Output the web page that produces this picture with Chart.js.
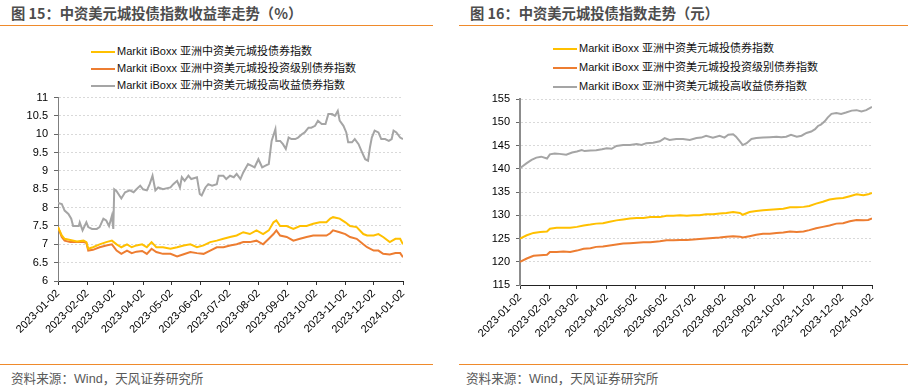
<!DOCTYPE html>
<html>
<head>
<meta charset="utf-8">
<script src="https://cdn.jsdelivr.net/npm/chart.js@4.4.0/dist/chart.umd.min.js"></script>
<style>
  body { margin: 0; width: 913px; height: 392px; background: #fff; position: relative; overflow: hidden;
         font-family: "Liberation Sans", "Noto Sans CJK SC", sans-serif; }
  .title { position: absolute; top: 2px; height: 20px; line-height: 20px; font: bold 14.3px "Noto Sans CJK SC", sans-serif; color: #4d4d4d; white-space: nowrap; }
  .rule { position: absolute; height: 1px; background: #ef8a2b; }
  .legend { position: absolute; font-size: 11px; color: #111; }
  .legend div { white-space: nowrap; }
  .legend span { display: inline-block; width: 24px; height: 2px; vertical-align: middle; margin-right: 2px; }
  .source { position: absolute; top: 371px; line-height: 16px; font-size: 12.6px; color: #595959; white-space: nowrap; }
  canvas { position: absolute; }
</style>
</head>
<body>
<div class="title" style="left:11px">图 15：中资美元城投债指数收益率走势（%）</div>
<div class="rule" style="left:0;top:25px;width:433px"></div>
<div class="legend" id="legendLeft" style="left:91px;top:43px;line-height:17px"></div>
<canvas id="chartLeft" width="430" height="260" style="left:0;top:85px"></canvas>
<div class="rule" style="left:0;top:364px;width:433px"></div>
<div class="source" style="left:11px">资料来源：Wind，天风证券研究所</div>

<div class="title" style="left:470px">图 16：中资美元城投债指数走势（元）</div>
<div class="rule" style="left:459px;top:25px;width:449px"></div>
<div class="legend" id="legendRight" style="left:553px;top:39px;line-height:19px"></div>
<canvas id="chartRight" width="453" height="260" style="left:460px;top:85px"></canvas>
<div class="rule" style="left:459px;top:364px;width:449px"></div>
<div class="source" style="left:466px">资料来源：Wind，天风证券研究所</div>

<script>
// x 轴：自 2023-01-02 起的天数
const monthDays = [0, 31, 59, 90, 120, 151, 181, 212, 243, 273, 304, 334, 365];
const tickLabels = ['2023-01-02', '2023-02-02', '2023-03-02', '2023-04-02', '2023-05-02', '2023-06-02',
  '2023-07-02', '2023-08-02', '2023-09-02', '2023-10-02', '2023-11-02', '2023-12-02', '2024-01-02'];

const seriesNames = [
  'Markit iBoxx 亚洲中资美元城投债券指数',
  'Markit iBoxx 亚洲中资美元城投投资级别债券指数',
  'Markit iBoxx 亚洲中资美元城投高收益债券指数'
];
const seriesColors = ['#FFC000', '#ED7D31', '#A5A5A5'];

// 图15 收益率（%）
const yieldDays = [0, 4, 7, 13, 20, 27, 30, 32, 37, 44, 51, 57, 62, 67, 73, 78, 83, 89, 94, 99,
  104, 111, 119, 126, 133, 140, 147, 154, 161, 168, 175, 182, 189, 196, 203, 210, 217, 223, 228, 231,
  235, 242, 249, 256, 263, 270, 277, 284, 288, 291, 298, 304, 309, 316, 323, 327, 334, 339, 344, 351,
  357, 362, 365];
const yieldAll = [7.47, 7.24, 7.15, 7.12, 7.08, 7.1, 7.06, 6.88, 6.92, 7.0, 7.06, 7.1, 7.0, 6.92, 7.0, 6.92, 6.97, 7.0, 6.92, 7.06,
  6.92, 6.92, 6.88, 6.92, 6.97, 7.0, 6.92, 6.97, 7.06, 7.1, 7.15, 7.2, 7.24, 7.33, 7.28, 7.38, 7.28, 7.38, 7.6, 7.65,
  7.5, 7.5, 7.42, 7.5, 7.5, 7.56, 7.6, 7.6, 7.7, 7.74, 7.7, 7.6, 7.5, 7.47, 7.28, 7.24, 7.24, 7.28, 7.2, 7.06,
  7.15, 7.15, 7.0];
const yieldIG = [7.47, 7.2, 7.1, 7.06, 7.06, 7.06, 7.04, 6.83, 6.85, 6.92, 6.97, 7.0, 6.83, 6.74, 6.83, 6.76, 6.8, 6.82, 6.74, 6.88,
  6.79, 6.74, 6.74, 6.67, 6.73, 6.79, 6.76, 6.74, 6.83, 6.92, 6.92, 6.97, 7.0, 7.06, 7.06, 7.1, 7.0, 7.15, 7.28, 7.38,
  7.24, 7.2, 7.1, 7.15, 7.2, 7.24, 7.24, 7.24, 7.3, 7.38, 7.33, 7.28, 7.2, 7.15, 7.0, 6.92, 6.83, 6.83, 6.74, 6.72,
  6.76, 6.76, 6.65];
const yieldHYDays = [0, 4, 7, 11, 14, 16, 22, 23, 26, 30, 32, 36, 41, 44, 48, 51, 54, 57, 58.5, 59.5,
  62, 67, 71, 76, 80, 83, 87, 90, 94, 97, 100, 103, 106, 111, 119, 122, 126, 129, 131, 134,
  138, 141, 147, 150, 152, 156, 159, 163, 168, 170, 175, 178, 182, 186, 189, 193, 196, 201, 205, 208,
  212, 216, 219, 223, 226, 230, 231, 235, 238, 241, 244, 247, 251, 254, 258, 261, 265, 268, 272, 275,
  279, 283, 286, 290, 293, 296, 298, 302, 305, 307, 311, 314, 318, 321, 325, 328, 330, 332, 335, 339,
  342, 346, 350, 353, 355, 358, 362, 365];
const yieldHY = [8.13, 8.1, 7.92, 7.83, 7.7, 7.5, 7.5, 7.6, 7.38, 7.6, 7.47, 7.42, 7.42, 7.47, 7.7, 7.65, 7.5, 7.78, 7.42, 8.5,
  8.45, 8.25, 8.42, 8.47, 8.42, 8.5, 8.6, 8.5, 8.47, 8.64, 8.87, 8.47, 8.55, 8.5, 8.55, 8.64, 8.73, 8.55, 8.83, 8.73,
  8.87, 8.78, 8.83, 8.37, 8.33, 8.55, 8.64, 8.6, 8.64, 8.87, 8.87, 8.78, 8.87, 8.83, 8.92, 8.78, 8.96, 9.19, 9.14, 9.1,
  9.32, 9.1, 9.14, 9.19, 9.82, 10.14, 9.82, 9.82, 9.73, 9.6, 9.91, 9.87, 9.87, 9.91, 10.0, 10.05, 10.18, 10.18, 10.23, 10.37,
  10.28, 10.28, 10.55, 10.55, 10.5, 10.64, 10.37, 10.23, 10.05, 9.78, 9.78, 9.87, 9.73, 9.55, 9.32, 9.28, 9.64, 9.91, 10.1, 10.05,
  9.87, 9.87, 9.82, 9.87, 10.1, 10.05, 9.91, 9.87];

// 图16 指数（元）
const indexDays = [0, 7, 14, 21, 28, 31, 38, 45, 52, 59, 66, 73, 79, 86, 93, 100, 107, 114, 121, 128,
  135, 145, 152, 159, 166, 173, 180, 186, 193, 200, 207, 214, 221, 228, 231, 238, 245, 252, 259, 266,
  273, 280, 287, 294, 300, 307, 314, 321, 328, 335, 342, 349, 356, 361, 365];
const indexAll = [125.0, 125.7, 126.2, 126.4, 126.5, 127.1, 127.3, 127.3, 127.3, 127.5, 127.8, 128.0, 128.2, 128.3, 128.6, 128.9, 129.1, 129.3, 129.4, 129.4,
  129.6, 129.6, 129.9, 129.9, 130.0, 129.9, 130.0, 130.0, 130.2, 130.2, 130.4, 130.5, 130.7, 130.5, 130.1, 130.7, 130.9, 131.1, 131.2, 131.3,
  131.4, 131.7, 131.7, 131.8, 132.0, 132.5, 132.9, 133.4, 133.6, 133.7, 134.1, 134.5, 134.3, 134.5, 134.8];
const indexIG = [120.0, 120.7, 121.3, 121.4, 121.5, 122.1, 122.1, 122.2, 122.1, 122.4, 122.8, 122.9, 123.2, 123.3, 123.5, 123.7, 123.9, 124.0, 124.1, 124.2,
  124.2, 124.4, 124.6, 124.6, 124.7, 124.7, 124.8, 124.9, 125.0, 125.1, 125.2, 125.4, 125.5, 125.4, 125.2, 125.5, 125.8, 126.0, 126.0, 126.2,
  126.3, 126.5, 126.4, 126.5, 126.8, 127.2, 127.5, 127.8, 128.2, 128.3, 128.7, 129.0, 128.9, 129.0, 129.3];
const indexHYDays = [0, 3, 7, 12, 17, 22, 28, 31, 36, 41, 48, 54, 59, 64, 67, 73, 79, 85, 90, 95,
  100, 107, 114, 121, 126, 131, 138, 145, 150, 155, 162, 169, 176, 183, 188, 193, 200, 207, 212, 216,
  221, 224, 228, 231, 235, 240, 245, 252, 259, 266, 271, 276, 281, 287, 292, 297, 302, 306, 309, 312,
  316, 319, 323, 328, 333, 338, 344, 349, 354, 359, 365];
const indexHY = [140.1, 140.6, 141.2, 141.9, 142.4, 142.6, 142.2, 143.1, 143.3, 143.2, 143.0, 143.5, 143.7, 144.0, 143.8, 143.9, 144.0, 144.2, 144.4, 144.3,
  144.9, 145.1, 145.1, 145.3, 145.1, 145.5, 145.6, 145.9, 146.6, 146.2, 146.4, 146.4, 146.2, 146.6, 146.7, 147.1, 146.7, 147.1, 146.7, 147.3,
  147.4, 146.9, 145.9, 145.1, 145.5, 146.4, 146.6, 146.7, 146.8, 146.9, 146.8, 146.9, 147.3, 146.9, 147.1, 147.7, 148.0, 148.5, 149.2, 149.5,
  150.2, 151.0, 151.8, 152.0, 151.8, 152.1, 152.5, 152.6, 152.3, 152.6, 153.3];

function buildLegend(id) {
  document.getElementById(id).innerHTML = seriesNames.map((name, i) =>
    `<div><span style="background:${seriesColors[i]}"></span>${name}</div>`).join('');
}

function toPoints(days, values) {
  return days.map((d, i) => ({ x: d, y: values[i] }));
}

function makeChart(id, series, yMin, yMax, yStep, yWidth, xHeight, padTop, padRight, yBorder) {
  const tickFont = { family: '"Liberation Sans", Arial, sans-serif', size: 11 };
  return new Chart(document.getElementById(id), {
    type: 'line',
    data: {
      datasets: series.map((s, i) => ({
        label: seriesNames[i],
        data: toPoints(s[0], s[1]),
        borderColor: seriesColors[i],
        borderWidth: 2,
        pointRadius: 0,
        tension: 0,
        fill: false
      }))
    },
    options: {
      responsive: false,
      animation: false,
      layout: { padding: { top: padTop, right: padRight, left: 0, bottom: 0 } },
      plugins: { legend: { display: false }, tooltip: { enabled: false } },
      scales: {
        x: {
          type: 'linear',
          min: 0,
          max: 365,
          afterBuildTicks: (axis) => { axis.ticks = monthDays.map(v => ({ value: v })); },
          afterFit: (axis) => { axis.height = xHeight; },
          ticks: {
            autoSkip: false,
            minRotation: 45,
            maxRotation: 45,
            padding: 2,
            color: '#000',
            font: tickFont,
            callback: (v, i) => tickLabels[i]
          },
          grid: { drawOnChartArea: false, drawTicks: true, tickLength: 4, tickColor: '#333' },
          border: { color: '#222', width: 1 }
        },
        y: {
          min: yMin,
          max: yMax,
          afterFit: (axis) => { axis.width = yWidth; },
          ticks: {
            stepSize: yStep,
            padding: 6,
            color: '#000',
            font: tickFont,
            callback: (v) => String(v)
          },
          grid: { color: '#d9d9d9', tickColor: '#666', tickLength: 4, tickBorderDash: [] },
          border: { color: yBorder.color, width: yBorder.width, dash: [2, 2] }
        }
      }
    }
  });
}

buildLegend('legendLeft');
buildLegend('legendRight');

makeChart('chartLeft',
  [[yieldDays, yieldAll], [yieldDays, yieldIG], [yieldHYDays, yieldHY]],
  6, 11, 0.5, 58, 64, 12, 27, { color: '#7f7f7f', width: 1 });

makeChart('chartRight',
  [[indexDays, indexAll], [indexDays, indexIG], [indexHYDays, indexHY]],
  115, 155, 5, 60, 60, 14, 41, { color: '#8c8c8c', width: 2 });
</script>
</body>
</html>
